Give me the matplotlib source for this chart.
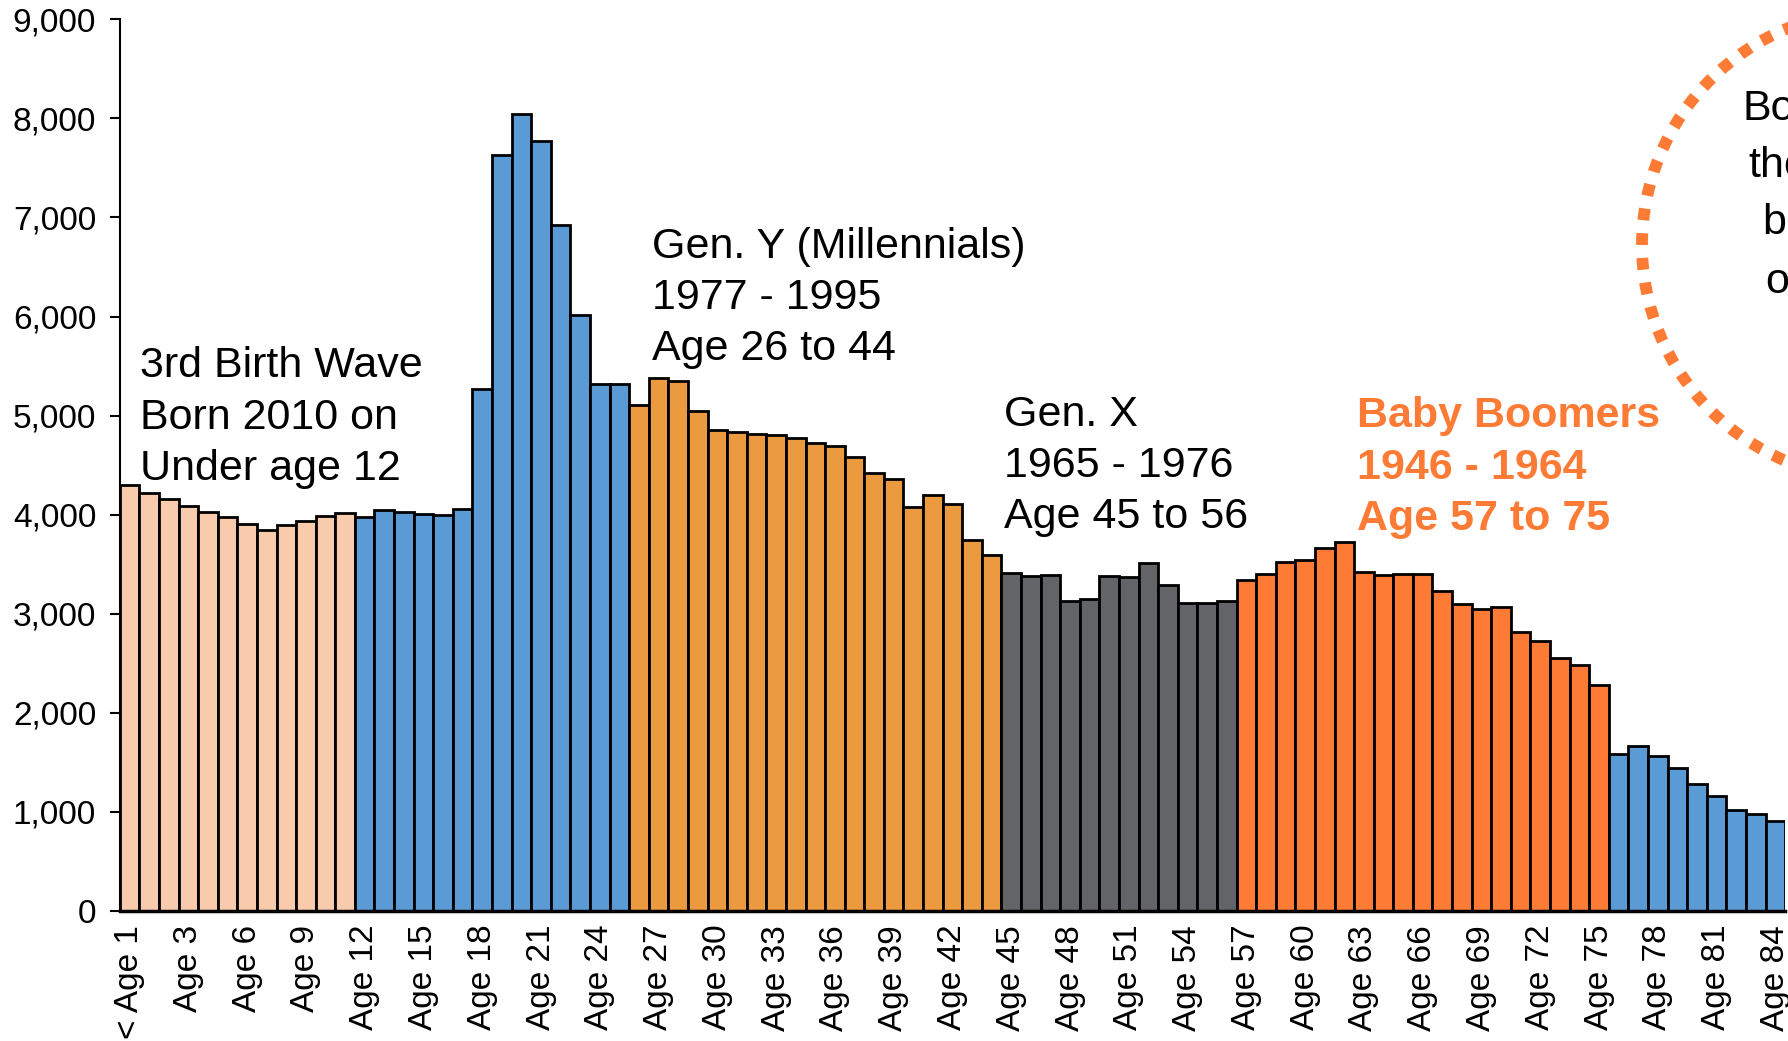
import matplotlib
matplotlib.use("Agg")
import matplotlib.pyplot as plt
from matplotlib.patches import Circle

plt.rcParams['font.family'] = ['Liberation Sans', 'DejaVu Sans']

# Категории: возраст от "< Age 1" до "Age 84"
ages = ["< Age 1"] + [f"Age {i}" for i in range(1, 85)]

# Население по возрастам
population = [
    4300, 4220, 4160, 4090, 4030, 3975, 3910, 3850, 3900, 3940, 3990, 4020,
    3980, 4050, 4030, 4010, 4000, 4060, 5270, 7630, 8040, 7770, 6920, 6020, 5320, 5320,
    5110, 5380, 5350, 5050, 4860, 4830, 4810, 4800, 4770, 4720, 4690, 4580,
    4425, 4360, 4080, 4200, 4110, 3740, 3590,
    3410, 3380, 3390, 3130, 3145, 3385, 3370, 3510, 3290, 3110, 3105, 3130,
    3340, 3400, 3520, 3540, 3660, 3720, 3420, 3390, 3400, 3400, 3225, 3095,
    3050, 3065, 2820, 2730, 2550, 2480, 2285,
    1585, 1665, 1565, 1445, 1285, 1160, 1015, 980, 910,
]

# Группы поколений: размер группы и цвет
group_sizes = [12, 14, 19, 12, 19, 9]
group_colors = ["#F8CBAD", "#5B9BD5", "#EC9A3F", "#636468", "#FE7B36", "#5B9BD5"]

y_ticks = list(range(0, 9001, 1000))
x_tick_step = 3

bar_colors = []
for size, color in zip(group_sizes, group_colors):
    bar_colors += [color] * size

fig = plt.figure(figsize=(17.88, 10.41), dpi=100)
ax = fig.add_axes([0.067, 0.1249, 0.9314, 0.8565])

x = list(range(len(ages)))
ax.bar(x, population, width=1.0, color=bar_colors, edgecolor="black", linewidth=2)

ax.set_xlim(-0.5, len(ages) - 0.5)
ax.set_ylim(0, 9000)

ax.set_yticks(y_ticks)
ax.set_yticklabels([f"{v:,}" for v in y_ticks])
tick_pos = x[::x_tick_step]
ax.set_xticks(tick_pos)
ax.set_xticklabels([ages[i] for i in tick_pos], rotation=90)

ax.tick_params(axis="y", labelsize=24, length=7, width=1.5, pad=10)
ax.tick_params(axis="x", labelsize=24, length=0, pad=10)

for side in ["top", "right"]:
    ax.spines[side].set_visible(False)
ax.spines["left"].set_linewidth(1.5)
ax.spines["bottom"].set_linewidth(2.5)

# Подписи поколений
label_style = dict(fontsize=31, va="center", ha="left", linespacing=1.36)
ax.text(0.55, 4980, "3rd Birth Wave\nBorn 2010 on\nUnder age 12", **label_style)
ax.text(26.68, 6190, "Gen. Y (Millennials)\n1977 - 1995\nAge 26 to 44", **label_style)
ax.text(44.61, 4490, "Gen. X\n1965 - 1976\nAge 45 to 56", **label_style)
ax.text(62.65, 4476, "Baby Boomers\n1946 - 1964\nAge 57 to 75",
        color="#FE7B36", fontweight="bold", **label_style)

# Пунктирный круг справа (выходит за край рисунка)
ring = Circle((18.76, 7.96), 2.34, transform=fig.dpi_scale_trans, fill=False,
              edgecolor="#FE7B36", linewidth=8.5, linestyle=(0, (1, 1.1)),
              clip_on=False)
ring.set_capstyle("butt")
fig.add_artist(ring)

circle_lines = ["Boomers", "the", "biggest", "of"]
circle_x = [1742, 1748, 1762, 1765]
circle_y = [1041 - 109, 1041 - 166, 1041 - 223, 1041 - 282]
for text, px, py in zip(circle_lines, circle_x, circle_y):
    fig.text(px / 1788, py / 1041, text, fontsize=31, ha="left", va="center")

fig.savefig("out.png", dpi=100)
